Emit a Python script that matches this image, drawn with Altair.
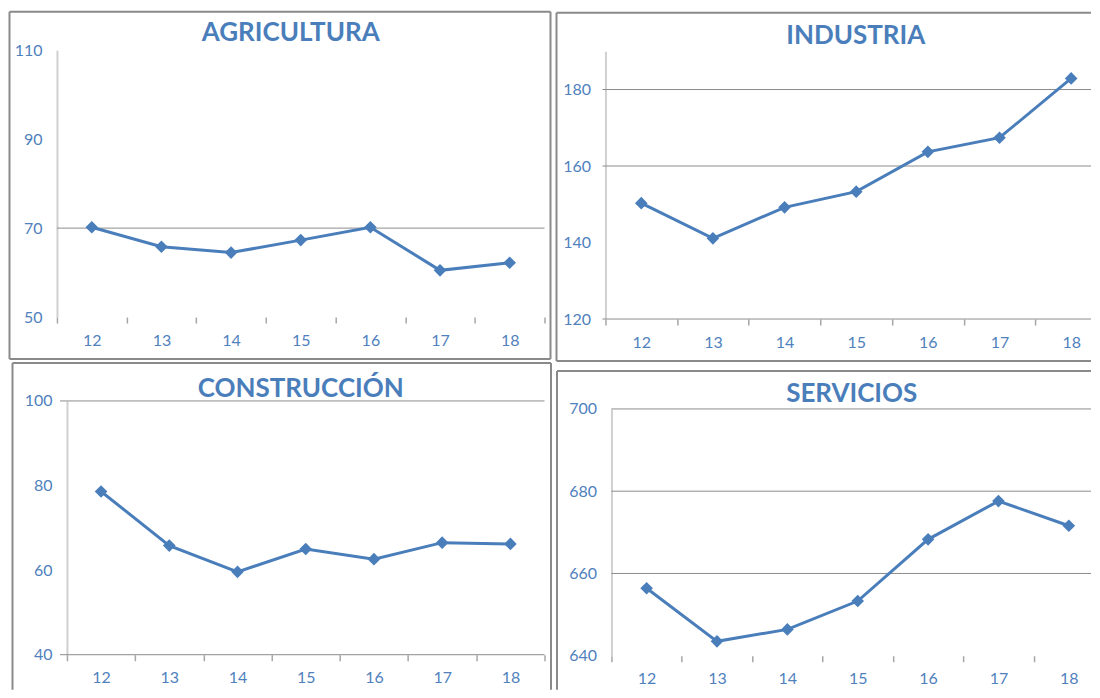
import altair as alt
import pandas as pd

years = ["12", "13", "14", "15", "16", "17", "18"]
agricultura = [70.2, 65.8, 64.5, 67.3, 70.2, 60.5, 62.2]
industria = [150.3, 141.1, 149.2, 153.3, 163.7, 167.4, 182.9]
construccion = [78.6, 65.8, 59.6, 65.0, 62.6, 66.5, 66.2]
servicios = [656.4, 643.5, 646.4, 653.3, 668.3, 677.6, 671.6]

ticks_agri = [50, 70, 90, 110]
ticks_ind = [120, 140, 160, 180]
ticks_con = [40, 60, 80, 100]
ticks_ser = [640, 660, 680, 700]

grid_agri = [70]
grid_ind = [120, 160, 180]
grid_con = [40, 100]
grid_ser = [660, 680, 700]

FONT = "Lato"
BLUE = "#4a7ebb"
LABEL = "#4f81bd"


def panel(title, vals, dom, ticks, grid, cw, ch, px, py, gx, edges, tpos, extent=True):
    """cw, ch: cell size; px, py: plot range inside the cell; gx: gridline x extent."""
    df = pd.DataFrame({"year": years, "value": vals})
    band = (px[1] - px[0]) / len(years)
    xaxis_kw = dict(title=None, labelAngle=0, domain=False, grid=False,
                    tickSize=6, tickColor="#a6a6a6", tickWidth=1.5,
                    labelFont=FONT, labelFontSize=16, labelColor=LABEL, labelPadding=9,
                    offset=-(ch - py[1]))
    if extent:
        xaxis_kw["tickBand"] = "extent"
    else:
        xaxis_kw["tickOffset"] = -band / 2
        xaxis_kw["labelOffset"] = band / 2
    xenc = alt.X("year:O", sort=years, bandPosition=0.5,
                 scale=alt.Scale(type="band", paddingInner=0, paddingOuter=0, range=[px[0], px[1]]),
                 axis=alt.Axis(**xaxis_kw))
    yax = alt.Axis(title=None, values=ticks, grid=False, ticks=False,
                   domainColor="#d0d0d0", domainWidth=2, offset=-px[0],
                   labelFont=FONT, labelFontSize=16, labelColor=LABEL, labelPadding=15)
    yenc = alt.Y("value:Q", scale=alt.Scale(domain=dom, nice=False, zero=False, range=[py[1], py[0]]), axis=yax)
    one = pd.DataFrame({"k": [0]})
    layers = []
    for (x1, y1, x2, y2) in edges:
        layers.append(alt.Chart(one).mark_rule(color="#8a8a8a", strokeWidth=2).encode(
            x=alt.value(x1), y=alt.value(y1), x2=alt.value(x2), y2=alt.value(y2)))
    layers.append(alt.Chart(pd.DataFrame({"value": grid})).mark_rule(color="#8c8c8c", strokeWidth=1).encode(
        y=yenc, x=alt.value(gx[0]), x2=alt.value(gx[1])))
    layers.append(alt.Chart(df).mark_line(color=BLUE, strokeWidth=3).encode(x=xenc, y=yenc))
    layers.append(alt.Chart(df).mark_point(shape="diamond", filled=True, size=160, color=BLUE, opacity=1).encode(x=xenc, y=yenc))
    layers.append(alt.Chart(one).mark_text(text=title, font=FONT, fontSize=26, fontWeight="bold", color=BLUE,
                                           align="center", baseline="alphabetic").encode(
        x=alt.value(tpos[0]), y=alt.value(tpos[1])))
    return alt.layer(*layers).properties(width=cw, height=ch)


# cells: col1 x 8..554, col2 x 554..1092; row1 y 8..362, row2 y 362..690
tl = panel("AGRICULTURA", agricultura, [50, 110], ticks_agri, grid_agri, 546, 354,
           (49, 537), (42, 309), (49, 537),
           [(1.5, 3.5, 543, 3.5), (1.5, 3.5, 1.5, 351), (543, 3.5, 543, 351), (1.5, 351, 543, 351)],
           (283, 33))
tr = panel("INDUSTRIA", industria, [120, 190], ticks_ind, grid_ind, 538, 354,
           (52, 554), (43, 311), (49, 538),
           [(3, 4.5, 538, 4.5), (3, 4.5, 3, 353), (3, 353, 538, 353)],
           (302.5, 36), extent=False)
bl = panel("CONSTRUCCIÓN", construccion, [40, 100], ticks_con, grid_con, 546, 328,
           (59, 537), (39, 293), (52, 537),
           [(4.5, 1, 543.5, 1), (4.5, 1, 4.5, 328), (543.5, 1, 543.5, 328)],
           (293, 35))
br = panel("SERVICIOS", servicios, [640, 700], ticks_ser, grid_ser, 538, 328,
           (58, 551), (47, 294), (58, 538),
           [(3.5, 9, 538, 9), (3.5, 9, 3.5, 328)],
           (298.5, 40), extent=False)

chart = alt.vconcat(
    alt.hconcat(tl, tr, spacing=0),
    alt.hconcat(bl, br, spacing=0),
    spacing=0,
).properties(padding=0).configure_view(stroke=None)

chart.save("out.html", embed_options={"renderer": "svg", "actions": False})
